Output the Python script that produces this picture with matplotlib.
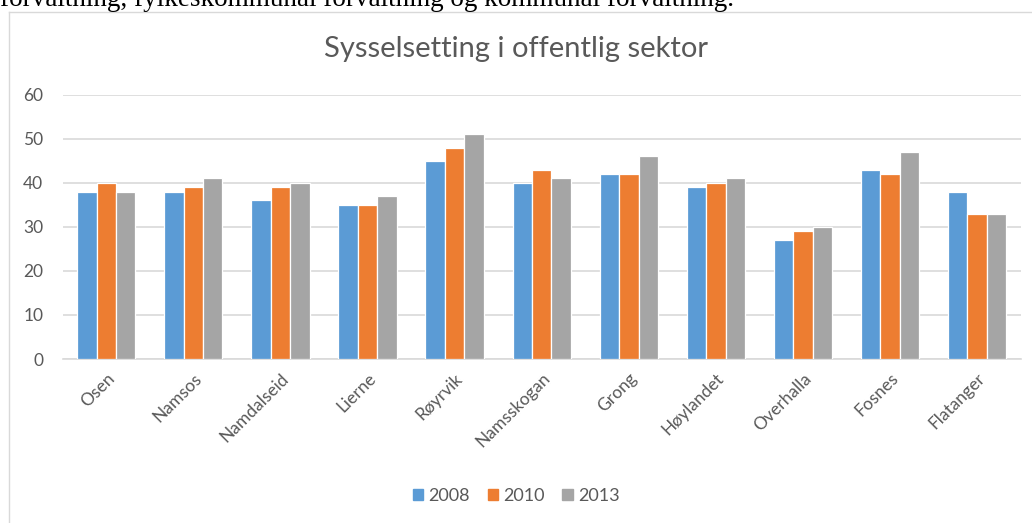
import matplotlib
matplotlib.use("Agg")
import matplotlib.pyplot as plt
import numpy as np
from matplotlib.patches import Rectangle
from matplotlib.lines import Line2D

categories = ["Osen", "Namsos", "Namdalseid", "Lierne", "Røyrvik", "Namsskogan",
              "Grong", "Høylandet", "Overhalla", "Fosnes", "Flatanger"]
series_names = ["2008", "2010", "2013"]
v2008 = [38, 38, 36, 35, 45, 40, 42, 39, 27, 43, 38]
v2010 = [40, 39, 39, 35, 48, 43, 42, 40, 29, 42, 33]
v2013 = [38, 41, 40, 37, 51, 41, 46, 41, 30, 47, 33]
yticks = [0, 10, 20, 30, 40, 50, 60]
title = "Sysselsetting i offentlig sektor"
caption = "forvaltning, fylkeskommunal forvaltning og kommunal forvaltning."

colors = ["#5B9BD5", "#ED7D31", "#A5A5A5"]
txt = "#595959"
plt.rcParams['font.family'] = ['Lato', 'DejaVu Sans']

W, H = 1032, 523
fig = plt.figure(figsize=(W/100, H/100), dpi=100)

# caption text (cut off at top, as in the reference)
fig.text(0.0, 1 - 6/H, caption, family='Liberation Serif', fontsize=19.5,
         color='black', va='baseline', ha='left')

# chart border
fig.add_artist(Line2D([9/W, 9/W], [0, 1 - 12/H], transform=fig.transFigure,
                      color='#d9d9d9', lw=1))
fig.add_artist(Line2D([9/W, 1], [1 - 12/H, 1 - 12/H], transform=fig.transFigure,
                      color='#d9d9d9', lw=1))

left, right = 62.7/W, 1020.7/W
bottom, top = 1 - 359/H, 1 - 94.7/H
ax = fig.add_axes([left, bottom, right - left, top - bottom])

x = np.arange(len(categories))
w = 0.223
for i, (vals, c, n) in enumerate(zip([v2008, v2010, v2013], colors, series_names)):
    ax.bar(x + (i - 1) * w, vals, width=w, color=c, edgecolor='white', linewidth=0.9,
           label=n, zorder=3)

ax.set_xlim(-0.5, len(categories) - 0.5)
ax.set_ylim(0, 60)
ax.set_yticks(yticks)
ax.yaxis.grid(True, color='#d9d9d9', lw=1.2, zorder=0)
ax.set_axisbelow(True)
for s in ['top', 'right', 'left']:
    ax.spines[s].set_visible(False)
ax.spines['bottom'].set_color('#d9d9d9')
ax.spines['bottom'].set_linewidth(1.2)
ax.tick_params(axis='both', length=0, colors=txt, labelsize=12.5)
ax.tick_params(axis='y', pad=14)
ax.set_xticks(x)
ax.set_xticklabels(categories, rotation=45, ha='right', rotation_mode='anchor')
ax.tick_params(axis='x', pad=8)

fig.text(0.5, 1 - 49/H, title, ha='center', va='center', fontsize=21,
         color=txt)

handles = [Rectangle((0, 0), 1, 1, color=c) for c in colors]
fig.legend(handles, series_names, loc='center', bbox_to_anchor=(0.5, 1 - 496/H),
           ncol=3, frameon=False, fontsize=13, handlelength=0.6, handleheight=0.6,
           handletextpad=0.25, columnspacing=1.0, labelcolor=txt)

fig.savefig("out.png", dpi=100)
